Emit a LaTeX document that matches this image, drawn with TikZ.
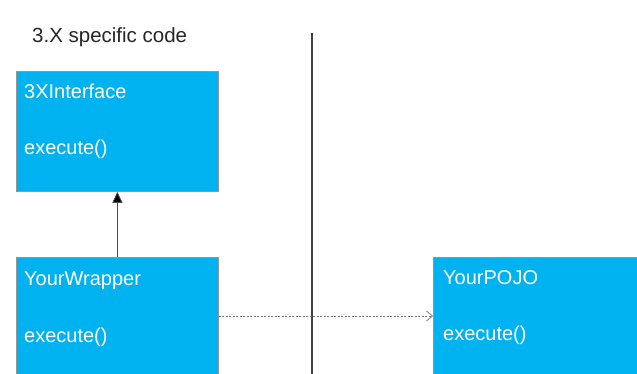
\documentclass[tikz,border=0pt]{standalone}
\usepackage{fontspec}
\setmainfont{Liberation Sans}
\usetikzlibrary{arrows.meta}
\definecolor{boxblue}{RGB}{0,178,240}
\definecolor{boxedge}{RGB}{150,150,150}
\tikzset{
  classbox/.style={draw=boxedge, line width=0.8pt, fill=boxblue, anchor=north west, inner sep=0pt},
  boxtext/.style={anchor=base west, inner sep=0pt, text=white, font=\fontsize{20}{24}\selectfont},
  titletext/.style={anchor=base west, inner sep=0pt, text=black!85, font=\fontsize{20.5}{24}\selectfont},
  inherit/.style={line width=0.8pt, black!70, -{Triangle[length=11pt,width=10pt,fill=black]}},
  depend/.style={line width=0.7pt, black!55, dash pattern=on 2pt off 1.5pt, -{Straight Barb[length=6pt,width=10pt]}},
}
\begin{document}
\begin{tikzpicture}[x=1pt,y=-1pt]
\useasboundingbox (0,0) rectangle (637,374);
\fill[white] (0,0) rectangle (637,374);
\clip (0,0) rectangle (637,374);
\node[titletext] (title) at (32,43) {3.X specific code};
\node[classbox, minimum width=202pt, minimum height=120pt] (iface) at (16,71) {};
\node[classbox, minimum width=202pt, minimum height=140pt] (wrap) at (16,257) {};
\node[classbox, minimum width=210pt, minimum height=140pt] (pojo) at (433,257) {};
\node[boxtext] (ifaceName) at (24,99) {3XInterface};
\node[boxtext] (ifaceOp) at (24,155) {execute()};
\node[boxtext] (wrapName) at (24,285) {YourWrapper};
\node[boxtext] (wrapOp) at (24,342) {execute()};
\node[boxtext] (pojoName) at (443,284) {YourPOJO};
\node[boxtext] (pojoOp) at (443,340) {execute()};
\coordinate (divTop) at (312,33);
\coordinate (divBot) at (312,380);
\coordinate (depY) at (0,316);
\draw[line width=1.6pt, black!75] (divTop) -- (divBot);
\draw[inherit] (wrap.north) -- (iface.south);
\draw[depend] (wrap.east |- depY) -- (pojo.west |- depY);
\end{tikzpicture}
\end{document}
